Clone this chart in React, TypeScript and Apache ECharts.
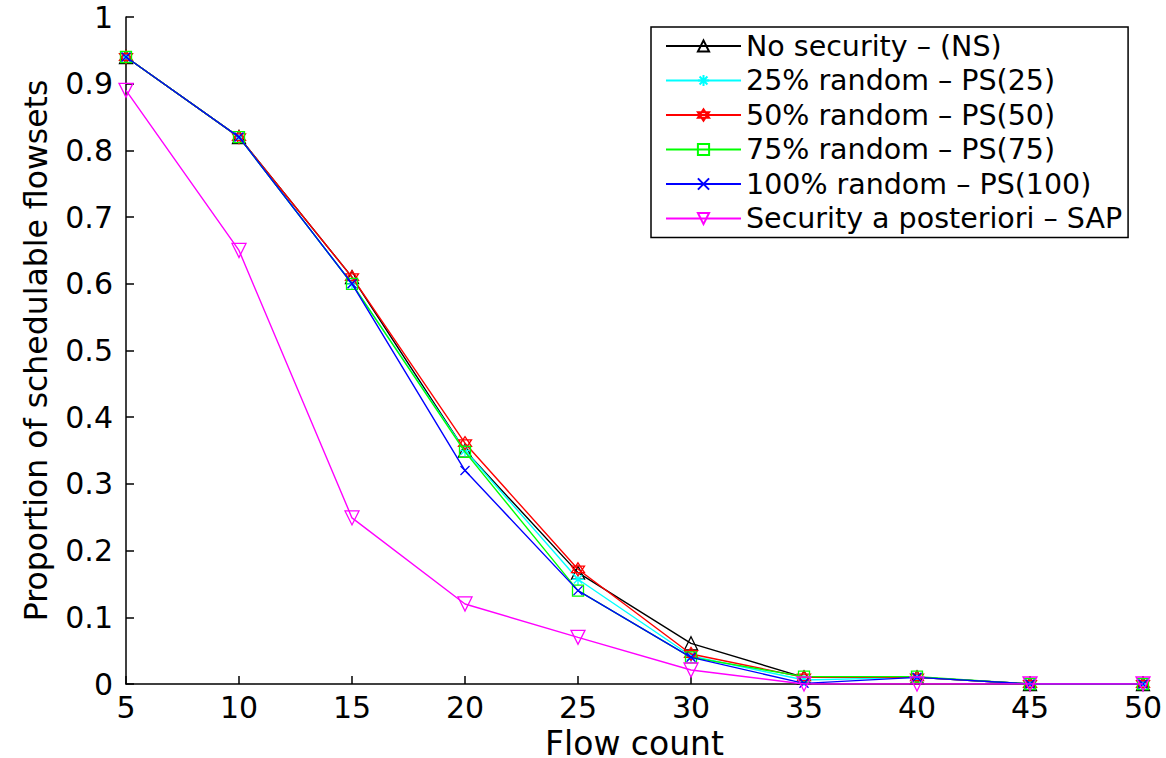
import React, { useEffect, useRef } from "react";
import * as echarts from "echarts";

const flowCounts = [5, 10, 15, 20, 25, 30, 35, 40, 45, 50];
const yTicks = [0, 0.1, 0.2, 0.3, 0.4, 0.5, 0.6, 0.7, 0.8, 0.9, 1];

const noSecurity = [0.94, 0.82, 0.61, 0.35, 0.167, 0.061, 0.01, 0.01, 0, 0];
const ps25 = [0.94, 0.82, 0.6, 0.35, 0.157, 0.042, 0.006, 0.01, 0, 0];
const ps50 = [0.94, 0.82, 0.61, 0.361, 0.172, 0.045, 0.01, 0.01, 0, 0];
const ps75 = [0.94, 0.82, 0.6, 0.348, 0.14, 0.04, 0.011, 0.011, 0, 0];
const ps100 = [0.94, 0.82, 0.6, 0.32, 0.14, 0.04, 0.001, 0.01, 0, 0];
const sap = [0.89, 0.65, 0.249, 0.12, 0.07, 0.021, 0, 0, 0, 0];

const seriesNames = [
  "No security \u2013 (NS)",
  "25% random \u2013 PS(25)",
  "50% random \u2013 PS(50)",
  "75% random \u2013 PS(75)",
  "100% random \u2013 PS(100)",
  "Security a posteriori \u2013 SAP",
];

const FONT = "DejaVu Sans, Arial, Helvetica, sans-serif";

export default function App() {
  const ref = useRef<HTMLDivElement>(null);

  useEffect(() => {
    if (!ref.current) return;
    const chart = echarts.init(ref.current, null, { renderer: "svg" });

    const defs = [
      { data: noSecurity, color: "#000000", symbol: "path://M5,0 L10,9 L0,9 Z", size: 13 },
      {
        data: ps25,
        color: "#00ffff",
        symbol: "path://M5,0 L5,10 M0,5 L10,5 M1.5,1.5 L8.5,8.5 M8.5,1.5 L1.5,8.5",
        size: 12,
      },
      {
        data: ps50,
        color: "#ff0000",
        symbol: "path://M5,0 L9.33,7.5 L0.67,7.5 Z M5,10 L0.67,2.5 L9.33,2.5 Z",
        size: 13,
      },
      { data: ps75, color: "#00ff00", symbol: "path://M0,0 L10,0 L10,10 L0,10 Z", size: 11 },
      {
        data: ps100,
        color: "#0000ff",
        symbol: "path://M0,0 L10,10 M10,0 L0,10",
        size: 9,
      },
      {
        data: sap,
        color: "#ff00ff",
        symbol: "path://M0,0 L10,0 L5,9 Z",
        size: 14,
      },
    ];

    const series = defs.map((d, i) => ({
      type: "line",
      name: seriesNames[i],
      data: flowCounts.map((x, j) => [x, d.data[j]]),
      symbol: d.symbol,
      symbolSize: d.size,
      showSymbol: true,
      lineStyle: { color: d.color, width: 1.4 },
      itemStyle: { color: "rgba(255,255,255,0)", borderColor: d.color, borderWidth: 1.3 },
      emphasis: { disabled: true },
      z: 2 + i,
    }));

    chart.setOption({
      animation: false,
      backgroundColor: "#ffffff",
      grid: {
        left: 126,
        right: 23,
        top: 17,
        bottom: 74,
        containLabel: false,
        outerBoundsMode: "none",
      },
      legend: {
        orient: "vertical",
        left: 651,
        top: 27,
        padding: [4, 6, 4, 14],
        itemWidth: 75,
        itemHeight: 14,
        itemGap: 4.5,
        borderColor: "#000000",
        borderWidth: 1.5,
        backgroundColor: "#ffffff",
        textStyle: { fontFamily: FONT, fontSize: 28.5, color: "#000000", lineHeight: 30 },
        selectedMode: false,
        data: seriesNames,
      },
      xAxis: {
        type: "value",
        min: 5,
        max: 50,
        interval: 5,
        name: "Flow count",
        nameLocation: "middle",
        nameGap: 33,
        nameTextStyle: { fontFamily: FONT, fontSize: 33, color: "#000000", lineHeight: 33 },
        axisLine: { show: true, lineStyle: { color: "#000000", width: 1.5 } },
        axisTick: { show: true, inside: true, length: 8, lineStyle: { color: "#000000", width: 1.5 } },
        axisLabel: {
          fontFamily: FONT,
          fontSize: 30,
          color: "#000000",
          margin: 8,
          showMinLabel: true,
          showMaxLabel: true,
        },
        splitLine: { show: false },
      },
      yAxis: {
        type: "value",
        min: 0,
        max: 1,
        interval: 0.1,
        name: "Proportion of schedulable flowsets",
        nameLocation: "middle",
        nameGap: 74,
        nameTextStyle: { fontFamily: FONT, fontSize: 31.5, color: "#000000" },
        axisLine: { show: true, lineStyle: { color: "#000000", width: 1.5 } },
        axisTick: { show: true, inside: true, length: 8, lineStyle: { color: "#000000", width: 1.5 } },
        axisLabel: {
          fontFamily: FONT,
          fontSize: 30,
          color: "#000000",
          margin: 13,
          formatter: (v: number) => {
            const t = yTicks.find((y) => Math.abs(y - v) < 1e-6);
            return String(t !== undefined ? t : Math.round(v * 10) / 10);
          },
        },
        splitLine: { show: false },
      },
      series,
    });

    return () => chart.dispose();
  }, []);

  return (
    <div
      ref={ref}
      style={{ position: "fixed", left: 0, top: 0, width: 1166, height: 758, background: "#fff" }}
    />
  );
}
